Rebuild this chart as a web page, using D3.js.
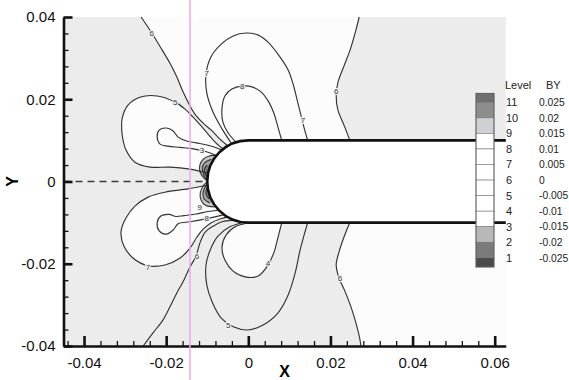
<!DOCTYPE html>
<html>
<head>
<meta charset="utf-8">
<script src="https://cdn.jsdelivr.net/npm/d3@7"></script>
<style>
  body { margin: 0; background: #fff; }
  svg { display: block; font-family: "Liberation Sans", Arial, sans-serif; }
</style>
</head>
<body>
<script>
// contour lines, [x, y] in data units
const zeroUpperLeft = [[-0.0261,0.0400],[-0.0235,0.0361],[-0.0210,0.0320],[-0.0191,0.0288],[-0.0174,0.0254],[-0.0159,0.0218],[-0.0144,0.0188],[-0.0130,0.0164],[-0.0110,0.0142],[-0.0088,0.0123],[-0.0069,0.0103],[-0.0049,0.0086]];
const zeroUpperRight = [[0.0270,0.0400],[0.0262,0.0368],[0.0248,0.0320],[0.0233,0.0281],[0.0218,0.0240],[0.0214,0.0210],[0.0218,0.0174],[0.0233,0.0137],[0.0248,0.0098]];
const level7Upper = [[-0.0040,0.0091],[-0.0064,0.0128],[-0.0086,0.0169],[-0.0101,0.0215],[-0.0103,0.0261],[-0.0091,0.0303],[-0.0066,0.0334],[-0.0037,0.0354],[-0.0006,0.0361],[0.0024,0.0356],[0.0048,0.0339],[0.0077,0.0303],[0.0097,0.0271],[0.0109,0.0237],[0.0119,0.0198],[0.0128,0.0162],[0.0136,0.0130],[0.0145,0.0099]];
const level8Upper = [[-0.0028,0.0094],[-0.0049,0.0118],[-0.0062,0.0145],[-0.0064,0.0179],[-0.0057,0.0208],[-0.0040,0.0225],[-0.0015,0.0232],[0.0009,0.0230],[0.0031,0.0218],[0.0050,0.0193],[0.0063,0.0164],[0.0072,0.0133],[0.0082,0.0098]];
const level5Bulb = [[-0.0059,0.0077],[-0.0079,0.0094],[-0.0096,0.0113],[-0.0115,0.0135],[-0.0135,0.0157],[-0.0154,0.0176],[-0.0178,0.0193],[-0.0222,0.0208],[-0.0264,0.0205],[-0.0293,0.0186],[-0.0307,0.0154],[-0.0307,0.0113],[-0.0298,0.0077],[-0.0276,0.0047],[-0.0239,0.0035],[-0.0191,0.0035],[-0.0142,0.0030],[-0.0110,0.0023],[-0.0088,0.0018]];
const level4Blob = [[-0.0062,0.0076],[-0.0098,0.0088],[-0.0127,0.0094],[-0.0152,0.0099],[-0.0171,0.0108],[-0.0183,0.0123],[-0.0200,0.0130],[-0.0217,0.0125],[-0.0222,0.0108],[-0.0215,0.0091],[-0.0196,0.0086],[-0.0166,0.0083],[-0.0137,0.0080],[-0.0108,0.0074],[-0.0075,0.0062]];

const zeroLowerLeft = [[-0.0256,-0.0400],[-0.0232,-0.0368],[-0.0208,-0.0337],[-0.0191,-0.0305],[-0.0174,-0.0271],[-0.0157,-0.0240],[-0.0142,-0.0208],[-0.0127,-0.0181],[-0.0118,-0.0150],[-0.0105,-0.0123],[-0.0086,-0.0109],[-0.0064,-0.0098],[-0.0032,-0.0094]];
const zeroLowerRight = [[0.0248,-0.0098],[0.0233,-0.0135],[0.0221,-0.0171],[0.0214,-0.0203],[0.0221,-0.0235],[0.0235,-0.0266],[0.0250,-0.0305],[0.0262,-0.0344],[0.0272,-0.0385],[0.0274,-0.0400]];
const level5Lower = [[-0.0008,-0.0099],[-0.0045,-0.0110],[-0.0074,-0.0133],[-0.0093,-0.0167],[-0.0103,-0.0203],[-0.0101,-0.0252],[-0.0088,-0.0293],[-0.0066,-0.0332],[-0.0035,-0.0354],[-0.0001,-0.0361],[0.0036,-0.0349],[0.0072,-0.0320],[0.0097,-0.0276],[0.0114,-0.0223],[0.0126,-0.0167],[0.0136,-0.0130],[0.0145,-0.0098]];
const level4Lower = [[0.0009,-0.0099],[-0.0030,-0.0109],[-0.0054,-0.0130],[-0.0064,-0.0159],[-0.0057,-0.0191],[-0.0037,-0.0218],[-0.0008,-0.0232],[0.0024,-0.0230],[0.0048,-0.0203],[0.0063,-0.0171],[0.0072,-0.0137],[0.0082,-0.0098]];
const level7Bulb = [[-0.0093,-0.0006],[-0.0110,-0.0011],[-0.0147,-0.0018],[-0.0203,-0.0026],[-0.0244,-0.0038],[-0.0276,-0.0060],[-0.0298,-0.0089],[-0.0310,-0.0123],[-0.0303,-0.0157],[-0.0281,-0.0186],[-0.0244,-0.0205],[-0.0203,-0.0203],[-0.0166,-0.0186],[-0.0142,-0.0162],[-0.0125,-0.0135],[-0.0110,-0.0116],[-0.0091,-0.0101],[-0.0069,-0.0091],[-0.0047,-0.0086]];
const level8Blob = [[-0.0066,-0.0070],[-0.0098,-0.0073],[-0.0127,-0.0079],[-0.0157,-0.0083],[-0.0176,-0.0085],[-0.0193,-0.0080],[-0.0213,-0.0084],[-0.0222,-0.0101],[-0.0217,-0.0120],[-0.0200,-0.0128],[-0.0183,-0.0118],[-0.0171,-0.0103],[-0.0142,-0.0098],[-0.0110,-0.0092],[-0.0081,-0.0086],[-0.0057,-0.0080]];

// shaded patches hugging the nose (levels 1-3 above, 9-11 below)
const noseUpperLight = [[-0.0074,0.0064],[-0.0095,0.0062],[-0.0110,0.0054],[-0.0118,0.0040],[-0.0117,0.0022],[-0.0108,0.0009],[-0.0098,-0.0001],[0,0]];
const noseUpperMid = [[-0.0090,0.0054],[-0.0106,0.0046],[-0.0112,0.0034],[-0.0110,0.0020],[-0.0103,0.0006],[0,0]];
const noseUpperDark = [[-0.0101,0.0040],[-0.0107,0.0030],[-0.0105,0.0018],[-0.0098,0.0009],[0,0]];
const noseLowerLight = [[-0.0098,0.0001],[-0.0110,-0.0011],[-0.0117,-0.0028],[-0.0115,-0.0045],[-0.0104,-0.0058],[-0.0082,-0.0062],[0,0]];
const noseLowerMid = [[-0.0103,-0.0009],[-0.0110,-0.0026],[-0.0108,-0.0042],[-0.0094,-0.0052],[0,0]];
const noseLowerDark = [[-0.0101,-0.0016],[-0.0103,-0.0030],[-0.0096,-0.0042],[0,0]];

// contour labels
const contourLabels = [
  ["6", -0.0235, 0.0361], ["7", -0.0101, 0.0264], ["7", 0.0133, 0.0150], ["8", -0.0015, 0.0232],
  ["6", 0.0214, 0.0220], ["5", -0.0178, 0.0193], ["3", -0.0113, 0.0077], ["7", -0.0244, -0.0208],
  ["6", -0.0125, -0.0181], ["8", -0.0101, -0.0089], ["9", -0.0118, -0.0062], ["4", 0.0048, -0.0198],
  ["5", -0.0049, -0.0349], ["6", 0.0223, -0.0235]
];

// body: hemisphere nose of radius 0.01 at the origin, cylinder to the right edge
const bodyRadius = 0.01;
const bodyEnd = 0.0627;
const scanMarkX = -0.0142;

// axes
const xMajor = [-0.04, -0.02, 0, 0.02, 0.04, 0.06];
const xMinor = d3.range(-0.044, 0.0605, 0.004).filter(v => Math.abs(v / 0.02 - Math.round(v / 0.02)) > 0.01);
const yMajor = [-0.04, -0.02, 0, 0.02, 0.04];
const yMinor = d3.range(-0.036, 0.0365, 0.004).filter(v => Math.abs(v / 0.02 - Math.round(v / 0.02)) > 0.01);

// legend
const legendLevels = [11, 10, 9, 8, 7, 6, 5, 4, 3, 2, 1];
const legendValues = ["0.025", "0.02", "0.015", "0.01", "0.005", "0", "-0.005", "-0.01", "-0.015", "-0.02", "-0.025"];
const legendFills = ["#6f6f6f", "#8d8d8d", "#cfd0d4", "#fff", "#fff", "#fff", "#fff", "#fff", "#fff", "#b8b8b8", "#7b7b7b", "#4a4a4a"];

const W = 569, H = 380;
const svg = d3.select("body").append("svg").attr("width", W).attr("height", H);

const x = d3.scaleLinear().domain([-0.045, bodyEnd]).range([63.5, 505.8]);
const y = d3.scaleLinear().domain([-0.04, 0.04]).range([346, 17]);

const smooth = d3.line().x(d => x(d[0])).y(d => y(d[1])).curve(d3.curveCatmullRom.alpha(0.5));
const poly = d3.line().x(d => x(d[0])).y(d => y(d[1]));

// plot background
svg.append("rect")
  .attr("x", x(-0.045)).attr("y", y(0.04))
  .attr("width", x(bodyEnd) - x(-0.045)).attr("height", y(-0.04) - y(0.04))
  .attr("fill", "#ececec");

// lighter regions
const whiteRegions = [
  zeroUpperLeft.concat([[0, 0]], zeroUpperRight.slice().reverse()),
  zeroLowerRight.concat([[bodyEnd, -0.04], [bodyEnd, -0.0098]]),
  level5Bulb, level7Bulb, level4Lower
];
svg.append("g").selectAll("path").data(whiteRegions).enter().append("path")
  .attr("d", d => poly(d) + "Z")
  .attr("fill", "#fcfcfc");

// nose patches
const patches = [
  [noseUpperLight, "#c6c6c6"], [noseUpperMid, "#a2a2a2"], [noseUpperDark, "#7a7a7a"],
  [noseLowerLight, "#cbcbcb"], [noseLowerMid, "#a6a6a6"], [noseLowerDark, "#808080"]
];
svg.append("g").selectAll("path").data(patches).enter().append("path")
  .attr("d", d => poly(d[0]) + "Z")
  .attr("fill", d => d[1]);

// contour lines
const contours = [zeroUpperLeft, zeroUpperRight, level7Upper, level8Upper, level5Bulb, level4Blob,
  zeroLowerLeft, zeroLowerRight, level5Lower, level4Lower, level7Bulb, level8Blob]
  .concat(patches.map(p => p[0].slice(0, -1)));
svg.append("g").selectAll("path").data(contours).enter().append("path")
  .attr("d", smooth)
  .attr("fill", "none")
  .attr("stroke", "#333")
  .attr("stroke-width", 1.15);

// dashed symmetry line up to the nose
svg.append("line")
  .attr("x1", x(-0.045)).attr("x2", x(-bodyRadius))
  .attr("y1", y(0)).attr("y2", y(0))
  .attr("stroke", "#3a3a3a").attr("stroke-width", 1.5)
  .attr("stroke-dasharray", "7,5");

// body
const rx = x(bodyRadius) - x(0), ry = y(0) - y(bodyRadius);
const bodyOutline = `M${x(bodyEnd)},${y(bodyRadius)} L${x(0)},${y(bodyRadius)} A${rx},${ry} 0 0 0 ${x(0)},${y(-bodyRadius)} L${x(bodyEnd)},${y(-bodyRadius)}`;
svg.append("path").attr("d", bodyOutline + "Z").attr("fill", "#fff");
svg.append("path").attr("d", bodyOutline)
  .attr("fill", "none").attr("stroke", "#111").attr("stroke-width", 2.6);

// contour labels
svg.append("g").selectAll("text").data(contourLabels).enter().append("text")
  .attr("x", d => x(d[1])).attr("y", d => y(d[2]))
  .attr("dy", "0.35em")
  .attr("text-anchor", "middle")
  .attr("font-size", 8)
  .attr("fill", "#333")
  .attr("stroke", "#f4f4f4").attr("stroke-width", 2)
  .attr("paint-order", "stroke")
  .text(d => d[0]);

// legend
const legendY = d3.scaleLinear().domain([11, 1]).range([102.3, 257.8]);
const edges = [93.3].concat(legendLevels.map(legendY), [267]);
const lg = svg.append("g");
lg.selectAll("rect").data(legendFills).enter().append("rect")
  .attr("x", 476).attr("width", 18)
  .attr("y", (d, i) => edges[i])
  .attr("height", (d, i) => edges[i + 1] - edges[i])
  .attr("fill", d => d)
  .attr("stroke", "#777").attr("stroke-width", 0.6);
lg.append("rect")
  .attr("x", 476).attr("y", edges[0]).attr("width", 18).attr("height", edges[12] - edges[0])
  .attr("fill", "none").attr("stroke", "#555").attr("stroke-width", 0.8);
lg.append("text").attr("x", 505).attr("y", 89).attr("font-size", 11).attr("fill", "#222").text("Level");
lg.append("text").attr("x", 546).attr("y", 89).attr("font-size", 11).attr("fill", "#222").text("BY");
lg.selectAll(".lvl").data(legendLevels).enter().append("text")
  .attr("class", "lvl")
  .attr("x", 506).attr("y", d => legendY(d)).attr("dy", "0.36em")
  .attr("font-size", 11).attr("fill", "#222")
  .text(d => d);
lg.selectAll(".val").data(legendValues).enter().append("text")
  .attr("class", "val")
  .attr("x", 539).attr("y", (d, i) => legendY(legendLevels[i])).attr("dy", "0.36em")
  .attr("font-size", 10.3).attr("fill", "#222")
  .text(d => d);

// axes
const fmt = d => String(+d.toFixed(3));
const xAxis = svg.append("g").attr("transform", `translate(0,${y(-0.04)})`)
  .call(d3.axisBottom(x).tickValues(xMajor).tickFormat(fmt).tickSize(-10).tickSizeOuter(0).tickPadding(11));
svg.append("g").attr("transform", `translate(0,${y(-0.04)})`)
  .call(d3.axisBottom(x).tickValues(xMinor).tickFormat("").tickSize(-5).tickSizeOuter(0))
  .call(g => g.select(".domain").remove())
  .selectAll("line").attr("stroke-width", 1.3).attr("stroke", "#111");

const yAxis = svg.append("g").attr("transform", `translate(${x(-0.045)},0)`)
  .call(d3.axisLeft(y).tickValues(yMajor).tickFormat(fmt).tickSize(-9).tickSizeOuter(0).tickPadding(8));
svg.append("g").attr("transform", `translate(${x(-0.045)},0)`)
  .call(d3.axisLeft(y).tickValues(yMinor).tickFormat("").tickSize(-5).tickSizeOuter(0))
  .call(g => g.select(".domain").remove())
  .selectAll("line").attr("stroke-width", 1.3).attr("stroke", "#111");

[xAxis, yAxis].forEach(g => {
  g.attr("font-size", 15).attr("font-family", "Liberation Sans, Arial, sans-serif");
  g.select(".domain").attr("stroke", "#111").attr("stroke-width", 2.6);
  g.selectAll(".tick line").attr("stroke", "#111").attr("stroke-width", 2.6);
  g.selectAll(".tick text").attr("fill", "#111");
});

// axis titles
svg.append("text")
  .attr("x", (x(-0.045) + x(bodyEnd)) / 2).attr("y", 377)
  .attr("text-anchor", "middle").attr("font-size", 16).attr("font-weight", "bold")
  .text("X");
svg.append("text")
  .attr("transform", `translate(18,${y(0)}) rotate(-90)`)
  .attr("text-anchor", "middle").attr("font-size", 16).attr("font-weight", "bold")
  .text("Y");

// faint vertical scan line in the original
svg.append("line")
  .attr("x1", x(scanMarkX)).attr("x2", x(scanMarkX))
  .attr("y1", 0).attr("y2", H)
  .attr("stroke", "#f2a8e6").attr("stroke-width", 1.5);
</script>
</body>
</html>
